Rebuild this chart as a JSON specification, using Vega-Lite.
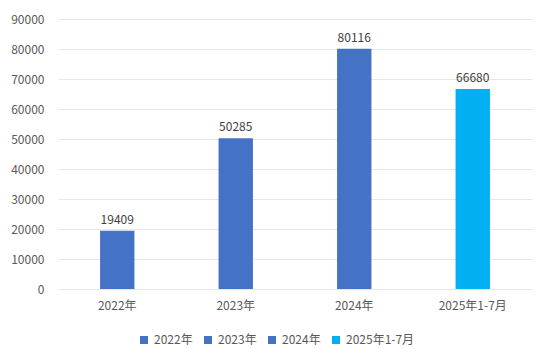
{
  "$schema": "https://vega.github.io/schema/vega-lite/v6.json",
  "autosize": "none",
  "width": 474,
  "height": 270,
  "padding": {"left": 58, "top": 19, "right": 18, "bottom": 74},
  "background": "white",
  "data": {"values": [
    {"period": "2022年", "value": 19409},
    {"period": "2023年", "value": 50285},
    {"period": "2024年", "value": 80116},
    {"period": "2025年1-7月", "value": 66680}
  ]},
  "config": {
    "font": "Noto Sans CJK SC",
    "view": {"stroke": null},
    "axis": {"labelFont": "Noto Sans CJK SC", "labelColor": "#595959", "labelFontSize": 12}
  },
  "encoding": {
    "x": {"field": "period", "type": "nominal", "sort": null,
      "scale": {"paddingInner": 0.71, "paddingOuter": 0.355},
      "axis": {"title": null, "labelAngle": 0, "domain": false, "ticks": false, "labelPadding": 11}},
    "y": {"field": "value", "type": "quantitative",
      "scale": {"domain": [0, 90000]},
      "axis": {"title": null, "format": "d", "labelOverlap": false, "values": [0,10000,20000,30000,40000,50000,60000,70000,80000,90000], "domain": false, "ticks": false, "labelPadding": 14, "gridColor": "#E6E6E6", "labelFlush": false}}
  },
  "layer": [
    {"mark": {"type": "bar"},
      "encoding": {"color": {"field": "period", "type": "nominal", "sort": null,
        "scale": {"domain": ["2022年", "2023年", "2024年", "2025年1-7月"], "range": ["#4472C4", "#4472C4", "#4472C4", "#00B0F0"]},
        "legend": {"title": null, "orient": "none", "direction": "horizontal", "legendX": 80, "legendY": 315, "symbolType": "square", "symbolSize": 64, "symbolStrokeWidth": 0, "labelFontSize": 12, "labelColor": "#595959", "labelFont": "Noto Sans CJK SC", "columnPadding": 9, "labelOffset": 4, "symbolOffset": 0}}}},
    {"mark": {"type": "text", "dy": -11, "fontSize": 12, "color": "#404040", "font": "Noto Sans CJK SC"},
      "encoding": {"text": {"field": "value", "type": "quantitative", "format": "d"}}}
  ]
}
